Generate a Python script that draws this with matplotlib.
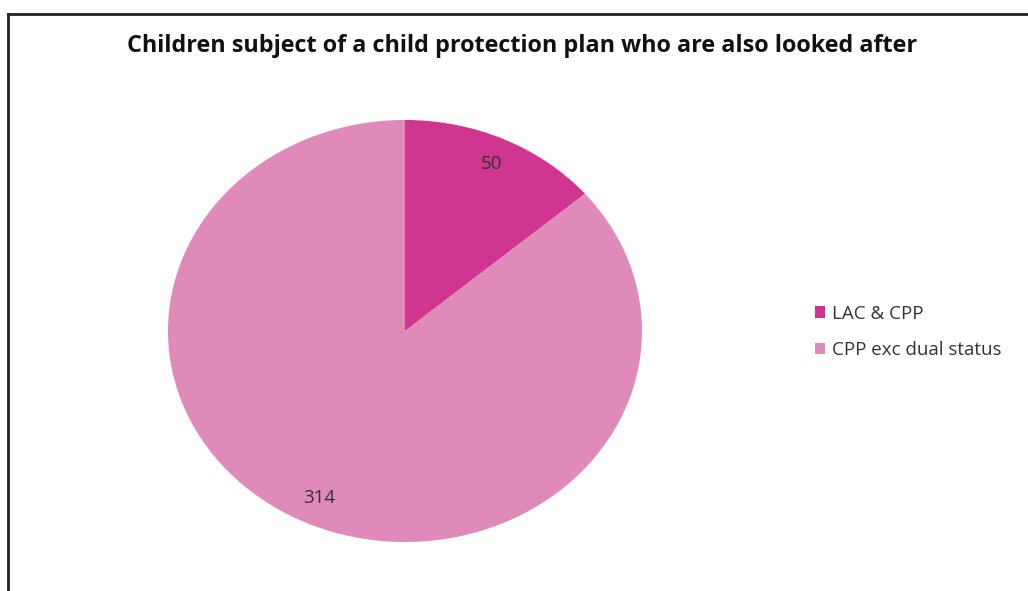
import matplotlib
matplotlib.use('Agg')
import matplotlib.pyplot as plt
from matplotlib.lines import Line2D
from matplotlib.patches import Patch

# data
categories = ['LAC & CPP', 'CPP exc dual status']
counts = [50, 314]
colours = ['#D03590', '#E08AB9']
title = 'Children subject of a child protection plan who are also looked after'

plt.rcParams['font.family'] = ['Open Sans', 'DejaVu Sans']

W, H = 1028, 591
fig = plt.figure(figsize=(W / 100, H / 100), dpi=100)
fig.patch.set_facecolor('white')

# chart border (top + left visible)
fig.add_artist(Line2D([8 / W, 8 / W], [0, 1 - 14 / H], transform=fig.transFigure,
                      color='#222222', lw=2))
fig.add_artist(Line2D([8 / W, 1], [1 - 14 / H, 1 - 14 / H], transform=fig.transFigure,
                      color='#222222', lw=2))

fig.text(522 / W, 1 - 46 / H, title, ha='center', va='center',
         fontsize=16.8, fontweight='bold', color='#111111')

# elliptical pie area
cx, cy, rx, ry = 405, 331, 237, 211
ax = fig.add_axes([(cx - rx) / W, 1 - (cy + ry) / H, 2 * rx / W, 2 * ry / H])
total = sum(counts)
wedges, texts, autotexts = ax.pie(
    counts, colors=colours, startangle=90, counterclock=False,
    autopct=lambda p: f'{round(p * total / 100)}', pctdistance=0.87,
    wedgeprops=dict(linewidth=0))
for t in autotexts:
    t.set_fontsize(13.5)
    t.set_color('#333333')
ax.set_aspect('auto')
ax.set_xlim(-1, 1)
ax.set_ylim(-1, 1)
ax.axis('off')

handles = [Patch(facecolor=c, edgecolor='none') for c in colours]
fig.legend(handles, categories, loc='center left',
           bbox_to_anchor=(798 / W, 1 - 332 / H), frameon=False,
           fontsize=13.5, handlelength=0.55, handleheight=0.55,
           handletextpad=0.35, labelspacing=1.0, labelcolor='#333333')

fig.savefig('out.png', dpi=100)
